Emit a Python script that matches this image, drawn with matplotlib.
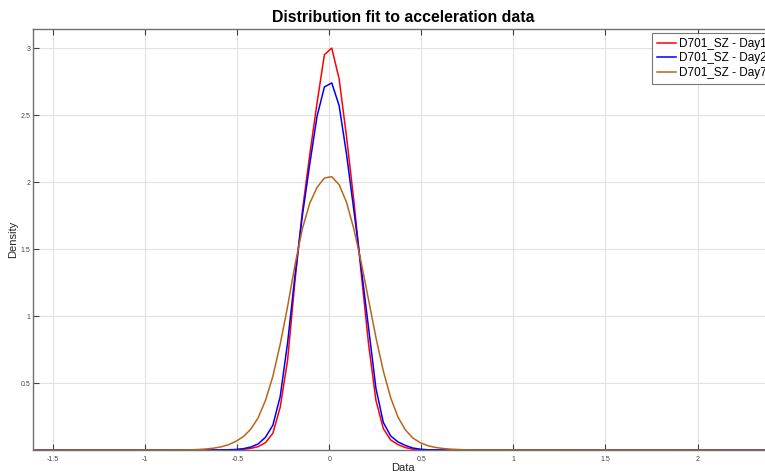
import matplotlib
matplotlib.use("Agg")
import matplotlib.pyplot as plt

plt.rcParams['font.family'] = ['Liberation Sans', 'DejaVu Sans']

# evaluation grid of the fitted densities
data_x = [-1.61,
          -0.787, -0.747, -0.707, -0.667, -0.627, -0.587, -0.547,
          -0.507, -0.467, -0.427, -0.387, -0.347, -0.307, -0.267, -0.227,
          -0.187, -0.147, -0.107, -0.067, -0.027, 0.013, 0.053, 0.093,
          0.133, 0.173, 0.213, 0.253, 0.293, 0.333, 0.373, 0.413,
          0.453, 0.493, 0.533,
          0.573, 0.613, 0.653, 0.693, 0.733, 0.773,
          2.41]

day1 = [0,
        0, 0, 0, 0, 0, 0, 0.001,
        0.002, 0.005, 0.012, 0.025, 0.055, 0.125, 0.32, 0.67,
        1.26, 1.78, 2.2, 2.59, 2.95, 3.0, 2.77, 2.34,
        1.86, 1.32, 0.79, 0.37, 0.16, 0.075, 0.04, 0.018,
        0.006, 0.002, 0.001,
        0, 0, 0, 0, 0, 0,
        0]

day2 = [0,
        0, 0, 0, 0, 0, 0.001, 0.002,
        0.004, 0.01, 0.022, 0.045, 0.095, 0.185, 0.40, 0.80,
        1.30, 1.745, 2.13, 2.49, 2.71, 2.74, 2.57, 2.21,
        1.79, 1.36, 0.91, 0.46, 0.206, 0.105, 0.06, 0.034,
        0.015, 0.006, 0.002,
        0.001, 0, 0, 0, 0, 0,
        0]

day7 = [0,
        0.001, 0.002, 0.004, 0.008, 0.014, 0.024, 0.04,
        0.065, 0.10, 0.155, 0.24, 0.37, 0.55, 0.79, 1.07,
        1.38, 1.65, 1.84, 1.96, 2.03, 2.04, 1.98, 1.85,
        1.65, 1.40, 1.12, 0.84, 0.59, 0.39, 0.245, 0.15,
        0.09, 0.055, 0.033,
        0.02, 0.012, 0.007, 0.004, 0.002, 0.001,
        0]

series = [
    ('D701_SZ - Day1', day1, '#ff0000'),
    ('D701_SZ - Day2', day2, '#0000ff'),
    ('D701_SZ - Day7', day7, '#b8651a'),
]

fig = plt.figure(figsize=(7.65, 4.75), dpi=100)
ax = fig.add_axes([33 / 765, 25 / 475, 740 / 765, 421.5 / 475])

for name, vals, col in series:
    ax.plot(data_x, vals, color=col, lw=1.1, label=name)

ax.set_xlim(-1.61, 2.41)
ax.set_ylim(0, 3.146)
ax.set_xticks([-1.5, -1, -0.5, 0, 0.5, 1, 1.5, 2])
ax.set_xticklabels(['-1.5', '-1', '-0.5', '0', '0.5', '1', '1.5', '2'])
ax.set_yticks([0.5, 1, 1.5, 2, 2.5, 3])
ax.set_yticklabels(['0.5', '1', '1.5', '2', '2.5', '3'])

ax.grid(True, color='#e2e2e2', lw=0.8)
ax.set_axisbelow(True)
ax.tick_params(direction='in', length=4, width=0.8, color='#404040',
               labelsize=5, labelcolor='#444444', top=True, right=False)
ax.tick_params(axis='x', pad=4.5)
ax.tick_params(axis='y', pad=2)
for side in ['left', 'bottom', 'top']:
    ax.spines[side].set_color('#707070')
    ax.spines[side].set_linewidth(1.0)
ax.spines['right'].set_visible(False)

ax.set_title('Distribution fit to acceleration data', fontsize=11.4,
             fontweight='bold', pad=5)
ax.set_xlabel('Data', fontsize=8, color='#262626')
ax.set_ylabel('Density', fontsize=8, color='#262626')
ax.xaxis.set_label_coords(0.5, -18 / 421.5, transform=ax.transAxes)
ax.yaxis.set_label_coords(-20 / 740, 0.5, transform=ax.transAxes)
ax.xaxis.label.set_va('center')
ax.yaxis.label.set_va('center')

leg = ax.legend(loc='upper left', bbox_to_anchor=(652 / 765, 1 - 33 / 475),
                bbox_transform=fig.transFigure, fontsize=8.5, frameon=True,
                fancybox=False, borderpad=0.4, labelspacing=0.22,
                handlelength=1.6, handletextpad=0.25, borderaxespad=0)
leg.get_frame().set_edgecolor('#555555')
leg.get_frame().set_linewidth(0.8)

fig.savefig('out.png', dpi=100)
